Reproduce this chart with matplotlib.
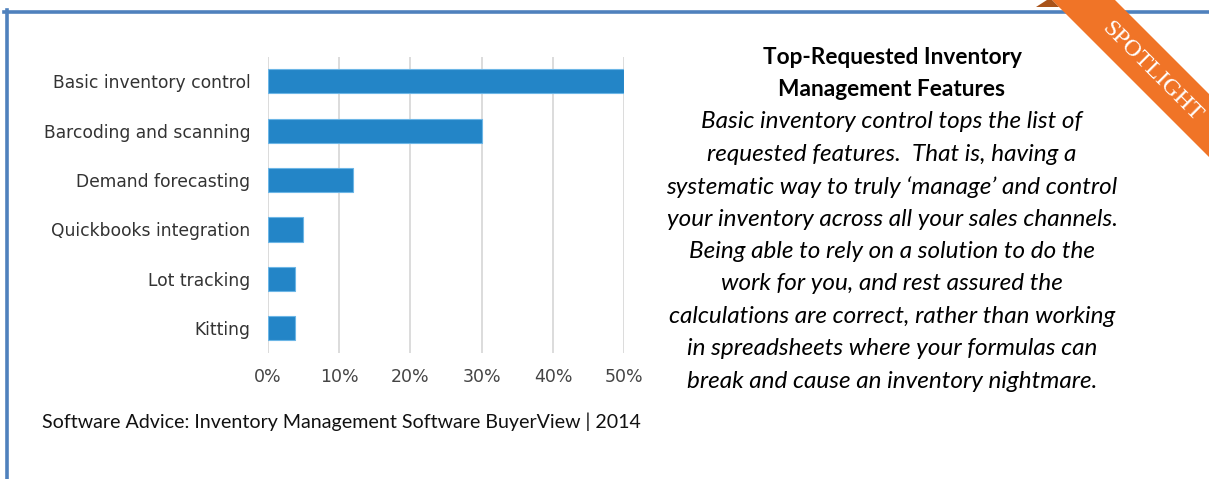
import matplotlib
matplotlib.use("Agg")
import matplotlib.pyplot as plt
import matplotlib.patches as mp
from matplotlib.lines import Line2D

# chart data
features = ["Basic inventory control", "Barcoding and scanning", "Demand forecasting",
            "Quickbooks integration", "Lot tracking", "Kitting"]
shares = [50, 30, 12, 5, 3.8, 3.8]
xticks = [0, 10, 20, 30, 40, 50]
xtick_labels = ["0%", "10%", "20%", "30%", "40%", "50%"]

title_lines = ["Top-Requested Inventory", "Management Features"]
body_lines = ["Basic inventory control tops the list of",
              "requested features.  That is, having a",
              "systematic way to truly \u2018manage\u2019 and control",
              "your inventory across all your sales channels.",
              "Being able to rely on a solution to do the",
              "work for you, and rest assured the",
              "calculations are correct, rather than working",
              "in spreadsheets where your formulas can",
              "break and cause an inventory nightmare."]
source = "Software Advice: Inventory Management Software BuyerView | 2014"
ribbon_text = "SPOTLIGHT"

W, H = 1209, 479
plt.rcParams['font.family'] = ['DejaVu Sans']
fig = plt.figure(figsize=(W / 100, H / 100), dpi=100)
fig.patch.set_facecolor("white")

def fx(px):  # pixel -> figure fraction
    return px / W

def fy(py):  # pixel from top -> figure fraction
    return 1 - py / H

# bar chart
ax = fig.add_axes([fx(267.7), fy(353), fx(624.3) - fx(267.7), fy(57) - fy(353)])
ax.barh(range(len(features)), shares, height=0.49, color="#2385c7",
        edgecolor="#6cb6e6", linewidth=0.8, zorder=3)
ax.set_ylim(5.5, -0.49)
ax.set_xlim(0, 50)
ax.set_yticks(range(len(features)))
ax.set_yticklabels(features, fontsize=12.3, color="#333333")
ax.set_xticks(xticks)
ax.set_xticklabels(xtick_labels, fontsize=12.5, color="#444444")
ax.tick_params(axis="both", length=0)
ax.tick_params(axis="y", pad=12.5)
ax.tick_params(axis="x", pad=11)
ax.grid(axis="x", color="#d9d9d9", linewidth=1.3, zorder=0)
ax.grid(axis="y", visible=False)
for s in ax.spines.values():
    s.set_visible(False)

# source line
fig.text(fx(42), fy(422), source, fontsize=14.1, family="Lato", ha="left", va="center", color="#111111")

# right-side text
cx = fx(892)
for i, line in enumerate(title_lines):
    fig.text(cx, fy(57 + 33 * i), line, fontsize=16.3, family="Lato", weight="bold",
             ha="center", va="center", color="black")
for i, line in enumerate(body_lines):
    fig.text(cx, fy(122 + 32.4 * i), line, fontsize=17.5, family="Lato", style="italic",
             ha="center", va="center", color="black")

# frame lines
fig.add_artist(Line2D([fx(4), fx(W + 5)], [fy(11.5), fy(11.5)], color="#4f81bd",
                      linewidth=2.6, zorder=1))
fig.add_artist(Line2D([fx(7), fx(7)], [fy(10), fy(H + 5)], color="#4f81bd",
                      linewidth=2.6, zorder=1))

# spotlight ribbon
rib = [(1040, -12), (1103, -12), (1230, 115), (1230, 178)]
fig.add_artist(mp.Polygon([(fx(x), fy(y)) for x, y in rib], closed=True, zorder=2,
                          facecolor="#f07427", edgecolor="none", transform=fig.transFigure))
fold = [(1036, 7), (1059, 7), (1050, -2)]
fig.add_artist(mp.Polygon([(fx(x), fy(y)) for x, y in fold], closed=True, zorder=2,
                          facecolor="#a9531a", edgecolor="none", transform=fig.transFigure))
fig.text(fx(1152), fy(72), ribbon_text, fontsize=17.5, family="Liberation Serif", color="white",
         rotation=-45, ha="center", va="center", rotation_mode="anchor", zorder=3)

fig.savefig("out.png", dpi=100)
